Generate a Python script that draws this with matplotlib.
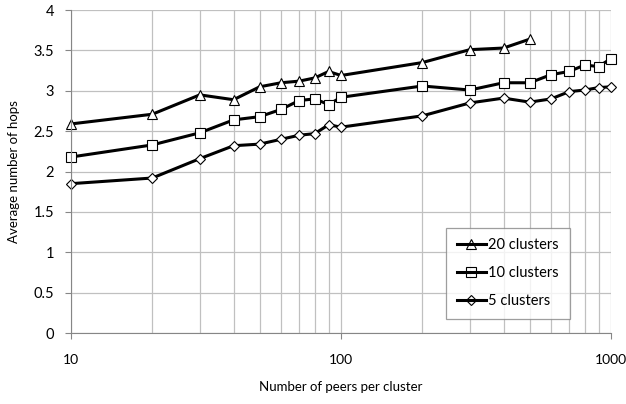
import matplotlib.pyplot as plt
from matplotlib.ticker import FixedLocator, NullFormatter

plt.rcParams['font.family'] = ['Lato', 'DejaVu Sans']

# peers per cluster
x20 = [10, 20, 30, 40, 50, 60, 70, 80, 90, 100, 200, 300, 400, 500]
x10 = [10, 20, 30, 40, 50, 60, 70, 80, 90, 100, 200, 300, 400, 500, 600, 700, 800, 900, 1000]
x5 = x10

# average hops
hops20 = [2.59, 2.71, 2.95, 2.89, 3.05, 3.10, 3.12, 3.16, 3.24, 3.19, 3.35, 3.51, 3.53, 3.64]
hops10 = [2.18, 2.33, 2.48, 2.64, 2.68, 2.77, 2.88, 2.90, 2.83, 2.92,
          3.06, 3.01, 3.10, 3.10, 3.20, 3.24, 3.32, 3.30, 3.40]
hops5 = [1.85, 1.92, 2.16, 2.32, 2.34, 2.40, 2.45, 2.47, 2.58, 2.55,
         2.69, 2.85, 2.91, 2.86, 2.90, 2.99, 3.01, 3.04, 3.05]

fig = plt.figure(figsize=(6.26, 4.04), dpi=100)
ax = fig.add_axes([0.1134, 0.1757, 0.8626, 0.7993])

ax.plot(x20, hops20, color='black', lw=2.2, marker='^', ms=7.5, mfc='white', mec='black', mew=0.8, label='20 clusters', clip_on=False)
ax.plot(x10, hops10, color='black', lw=2.2, marker='s', ms=7, mfc='white', mec='black', mew=0.8, label='10 clusters', clip_on=False)
ax.plot(x5, hops5, color='black', lw=2.2, marker='D', ms=5.5, mfc='white', mec='black', mew=0.8, label='5 clusters', clip_on=False)

ax.set_xscale('log')
ax.set_xlim(10, 1000)
ax.set_ylim(0, 4)
ax.set_xticks([10, 100, 1000])
ax.set_xticklabels(['10', '100', '1000'])
ax.xaxis.set_minor_locator(FixedLocator([20, 30, 40, 50, 60, 70, 80, 90, 200, 300, 400, 500, 600, 700, 800, 900]))
ax.xaxis.set_minor_formatter(NullFormatter())
ax.set_yticks([0, 0.5, 1, 1.5, 2, 2.5, 3, 3.5, 4])
ax.set_yticklabels(['0', '0.5', '1', '1.5', '2', '2.5', '3', '3.5', '4'])

ax.grid(True, which='both', color='#c0c0c0', lw=0.9)
ax.set_axisbelow(True)
for s in ['top', 'right']:
    ax.spines[s].set_visible(False)
for s in ['left', 'bottom']:
    ax.spines[s].set_color('#868686')
ax.tick_params(which='major', direction='out', length=4, color='#868686', labelsize=10.5)
ax.tick_params(axis='x', which='major', pad=11, labelsize=10)
ax.tick_params(axis='y', which='major', pad=8)
ax.tick_params(which='minor', length=0)

ax.set_xlabel('Number of peers per cluster', fontsize=9.5, labelpad=11)
ax.set_ylabel('Average number of hops', fontsize=9.5, labelpad=10)

leg = ax.legend(loc='lower left', bbox_to_anchor=(0.694, 0.043), frameon=True, fancybox=False,
                edgecolor='#868686', fontsize=10.5, handlelength=2.0, handletextpad=0.15,
                labelspacing=0.95, borderpad=0.75, borderaxespad=0)
leg.get_frame().set_linewidth(0.9)
for h in leg.legend_handles:
    h.set_markerfacecolor('none')

fig.savefig('out.png', dpi=100)
